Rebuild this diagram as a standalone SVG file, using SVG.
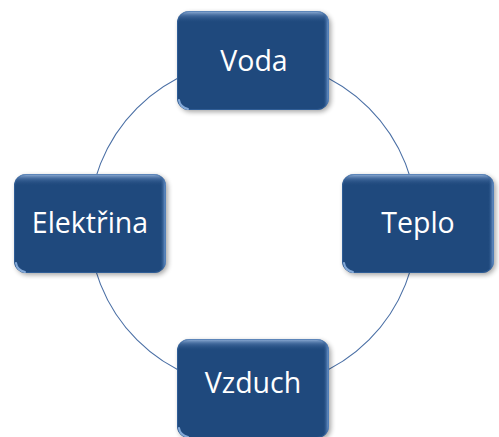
<svg xmlns="http://www.w3.org/2000/svg" width="499" height="437" viewBox="0 0 499 437">
  <defs>
    <linearGradient id="topShine" x1="0" y1="0" x2="0" y2="1">
      <stop offset="0" stop-color="#a9c4e8" stop-opacity="0.9"/>
      <stop offset="0.05" stop-color="#5d82b5" stop-opacity="0.5"/>
      <stop offset="0.12" stop-color="#1f497d" stop-opacity="0"/>
      <stop offset="1" stop-color="#1f497d" stop-opacity="0"/>
    </linearGradient>
    <linearGradient id="sideShine" x1="0" y1="0" x2="1" y2="0">
      <stop offset="0" stop-color="#1f497d" stop-opacity="0"/>
      <stop offset="0.96" stop-color="#1f497d" stop-opacity="0"/>
      <stop offset="1" stop-color="#8fb8ee" stop-opacity="0.9"/>
    </linearGradient>
    <filter id="shadow" x="-20%" y="-20%" width="140%" height="140%">
      <feGaussianBlur stdDeviation="2.5"/>
    </filter>
    <!-- rounded tile with soft drop shadow and light bevel edges -->
    <g id="box">
      <rect x="-74" y="-47" width="152" height="99" rx="12" fill="#000" opacity="0.35" filter="url(#shadow)"/>
      <rect x="-76" y="-49" width="152" height="99" rx="12" fill="#1f497d"/>
      <rect x="-76" y="-49" width="152" height="99" rx="12" fill="url(#topShine)"/>
      <rect x="-76" y="-49" width="152" height="99" rx="12" fill="url(#sideShine)"/>
      <rect x="-75.5" y="-48.5" width="151" height="98" rx="11.5" fill="none" stroke="#3b6aa6" stroke-width="1" opacity="0.6"/>
      <path d="M -74 40 Q -73 47 -65 49" fill="none" stroke="#9cc0ee" stroke-width="2" opacity="0.8" stroke-linecap="round"/>
    </g>
  </defs>
  <style>
    .ring { fill: none; stroke: #4a6fa5; stroke-width: 1.1; }
    .label { font-family: "Open Sans", "Noto Sans", "Liberation Sans", sans-serif; font-size: 28.5px; fill: #ffffff; text-anchor: middle; }
  </style>
  <rect width="499" height="437" fill="#ffffff"/>
  <g id="connectors">
    <circle class="ring" cx="253" cy="224" r="164"/>
  </g>
  <g id="node-voda">
    <use href="#box" x="253" y="60"/>
    <text class="label" x="254" y="71">Voda</text>
  </g>
  <g id="node-teplo">
    <use href="#box" x="418" y="223"/>
    <text class="label" x="418" y="233">Teplo</text>
  </g>
  <g id="node-vzduch">
    <use href="#box" x="253" y="388"/>
    <text class="label" x="253" y="393">Vzduch</text>
  </g>
  <g id="node-elektrina">
    <use href="#box" x="90" y="223"/>
    <text class="label" x="90" y="233">Elektřina</text>
  </g>
</svg>
